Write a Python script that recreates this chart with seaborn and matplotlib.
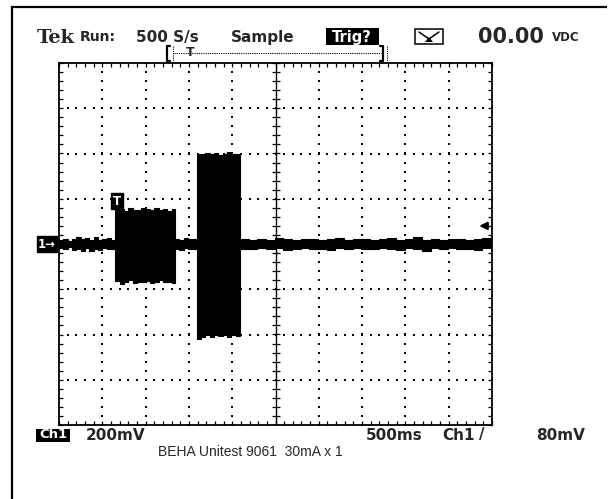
import numpy as np
import matplotlib
matplotlib.use('Agg')
import matplotlib.pyplot as plt
import seaborn as sns
from matplotlib.ticker import MultipleLocator
from matplotlib.patches import Rectangle

# scope settings
volts_per_div = 0.2      # 200mV
secs_per_div = 0.5       # 500ms
trig_level = 0.08        # 80mV
trig_time = 0.67         # s, trigger point marker

# trace envelope: time (s), upper / lower edge (mV)
t_pre = [0.00, 0.05, 0.10, 0.15, 0.20, 0.25, 0.30, 0.35, 0.40, 0.45, 0.50, 0.55, 0.60]
hi_pre = [16, 20, 14, 24, 30, 22, 26, 18, 30, 16, 22, 26, 18]
lo_pre = [-16, -22, -14, -26, -20, -30, -18, -32, -20, -28, -18, -24, -20]

t_burst1 = [0.65, 0.70, 0.75, 0.80, 0.85, 0.90, 0.95, 1.00, 1.05, 1.10, 1.15, 1.20, 1.25, 1.30]
hi_burst1 = [150, 155, 148, 158, 152, 150, 160, 154, 150, 158, 152, 156, 148, 154]
lo_burst1 = [-165, -175, -168, -160, -172, -166, -170, -162, -174, -168, -160, -170, -166, -172]

t_gap = [1.34, 1.39, 1.44, 1.49, 1.54]
hi_gap = [22, 18, 26, 20, 24]
lo_gap = [-20, -26, -18, -24, -20]

t_burst2 = [1.59, 1.64, 1.69, 1.74, 1.79, 1.84, 1.89, 1.94, 1.99, 2.04]
hi_burst2 = [400, 396, 404, 398, 402, 394, 400, 406, 396, 400]
lo_burst2 = [-420, -410, -404, -412, -402, -408, -400, -410, -404, -406]

t_post = [2.09, 2.19, 2.29, 2.39, 2.49, 2.59, 2.69, 2.79, 2.89, 2.99,
          3.09, 3.19, 3.29, 3.39, 3.49, 3.59, 3.69, 3.79, 3.89, 3.99,
          4.09, 4.19, 4.29, 4.39, 4.49, 4.59, 4.69, 4.79, 4.89, 4.99]
hi_post = [24, 18, 22, 16, 26, 20, 18, 24, 20, 16, 22, 28, 18, 20, 24,
           18, 22, 26, 16, 20, 30, 18, 22, 16, 24, 20, 18, 22, 26, 20]
lo_post = [-20, -24, -16, -22, -18, -26, -20, -16, -24, -20, -28, -18, -22, -16, -20,
           -24, -18, -22, -26, -16, -20, -30, -18, -22, -16, -24, -20, -26, -18, -22]

t = np.array(t_pre + t_burst1 + t_gap + t_burst2 + t_post + [5.0])
hi = np.array(hi_pre + hi_burst1 + hi_gap + hi_burst2 + hi_post + [hi_post[-1]]) / 1000
lo = np.array(lo_pre + lo_burst1 + lo_gap + lo_burst2 + lo_post + [lo_post[-1]]) / 1000

sns.set_theme(style='white')
plt.rcParams['font.family'] = ['DejaVu Sans']

W, H = 608, 499
fig = plt.figure(figsize=(W / 100, H / 100), dpi=100)
fig.patch.set_facecolor('white')
fig.patch.set_linewidth(0)

# overlay in pixel coordinates for the frame and readouts
ov = fig.add_axes([0, 0, 1, 1])
ov.set_xlim(0, W)
ov.set_ylim(H, 0)
ov.axis('off')

# graticule axes
L, R, T, B = 59, 492, 63, 425
ax = fig.add_axes([L / W, 1 - B / H, (R - L) / W, (B - T) / H])
ax.set_facecolor('none')
ax.set_xlim(0, 10 * secs_per_div)
ax.set_ylim(-4 * volts_per_div, 4 * volts_per_div)
for s in ax.spines.values():
    s.set_color('black')
    s.set_linewidth(1.3)
ax.xaxis.set_major_locator(MultipleLocator(secs_per_div))
ax.xaxis.set_minor_locator(MultipleLocator(secs_per_div / 5))
ax.yaxis.set_major_locator(MultipleLocator(volts_per_div))
ax.yaxis.set_minor_locator(MultipleLocator(volts_per_div / 5))
ax.tick_params(which='both', direction='in', length=2.6, width=0.9, color='black',
               top=True, right=True, bottom=True, left=True,
               labelbottom=False, labelleft=False)

# dotted division lines
px_x = 5 / (R - L)
px_y = 1.6 / (B - T)
for k in range(1, 10):
    if k == 5:
        continue
    yy = np.arange(-0.8, 0.8001, volts_per_div / 5)
    ax.scatter(np.full_like(yy, k * secs_per_div), yy, s=1.5, marker='s', color='black', lw=0, zorder=2)
for k in [-3, -2, -1, 1, 2, 3]:
    xx = np.arange(0, 5.0001, secs_per_div / 5)
    ax.scatter(xx, np.full_like(xx, k * volts_per_div), s=1.5, marker='s', color='black', lw=0, zorder=2)

# centre crosshair with ticks
ax.axvline(2.5, color='black', lw=1, zorder=2)
ax.axhline(0, color='black', lw=1, zorder=2)
ax.vlines(np.arange(0, 5.0001, 0.1), -4 * px_y, 4 * px_y, color='black', lw=0.9, zorder=2)
ax.hlines(np.arange(-0.8, 0.8001, 0.04), 2.5 - 4 * px_x, 2.5 + 4 * px_x, color='black', lw=0.9, zorder=2)

# trace
ax.fill_between(t, lo, hi, step='post', color='black', lw=0, zorder=3)
sns.lineplot(x=t, y=hi, drawstyle='steps-post', color='black', lw=0.8, ax=ax, zorder=3)
sns.lineplot(x=t, y=lo, drawstyle='steps-post', color='black', lw=0.8, ax=ax, zorder=3)

# channel marker, trigger point and trigger level
ax.text(-12 * px_x, 0, '1\u2192', ha='center', va='center', color='white', weight='bold',
        fontsize=8.5, clip_on=False, zorder=5,
        bbox=dict(boxstyle='square,pad=0.12', fc='black', ec='black'))
ax.text(trig_time, 0.19, 'T', ha='center', va='center', color='white', weight='bold',
        fontsize=8.5, clip_on=False, zorder=5,
        bbox=dict(boxstyle='square,pad=0.15', fc='black', ec='black'))
ax.annotate('', xy=(4.82, trig_level), xytext=(4.97, trig_level), zorder=5,
            arrowprops=dict(arrowstyle='-|>', color='black', lw=1.6, mutation_scale=11))

# outer frame (top and left edges only)
ov.plot([12, 12], [6, H], color='black', lw=1.6, solid_capstyle='butt')
ov.plot([11, W - 1], [7, 7], color='black', lw=1.6, solid_capstyle='butt')

# top readout
ty = 37
ov.text(37, ty + 1, 'Tek', family='DejaVu Serif', weight='bold', fontsize=14, va='center')
ov.text(80, ty, 'Run:', weight='bold', fontsize=10, va='center')
ov.text(136, ty, '500 S/s', weight='bold', fontsize=11, va='center')
ov.text(231, ty, 'Sample', weight='bold', fontsize=11, va='center')
ov.add_patch(Rectangle((326, 28), 53, 17, fc='black', ec='none'))
ov.text(352, ty, 'Trig?', weight='bold', fontsize=10.5, va='center', ha='center', color='white')
ov.add_patch(Rectangle((415, 29), 28, 15, fc='none', ec='black', lw=1.1))
ov.plot([419, 429, 439], [32, 39, 32], color='black', lw=1.1)
ov.add_patch(plt.Polygon([[425, 42], [429, 37], [433, 42]], fc='black', ec='none'))
ov.text(478, ty, '00.00', weight='bold', fontsize=15, va='center')
ov.text(552, ty, 'VDC', weight='bold', fontsize=8.5, va='center')

# record window bracket
ov.plot([170, 167, 167, 170], [46, 46, 61, 61], color='black', lw=1.6)
ov.plot([173, 173], [46, 61], color='black', lw=0.8, ls=(0, (1, 1)))
ov.plot([174, 381], [53, 53], color='black', lw=0.8, ls=(0, (1, 1)))
ov.text(190, 52, 'T', weight='bold', fontsize=9, va='center', ha='center')
ov.plot([380, 383, 383, 380], [46, 46, 61, 61], color='black', lw=1.6)
ov.plot([387, 387], [46, 61], color='black', lw=0.8, ls=(0, (1, 1)))

# bottom readout
by = 435
ov.add_patch(Rectangle((36, 429), 34, 13, fc='black', ec='none'))
ov.text(53, by, 'Ch1', weight='bold', fontsize=9.5, va='center', ha='center', color='white')
ov.text(86, by, '200mV', weight='bold', fontsize=11, va='center')
ov.text(366, by, '500ms', weight='bold', fontsize=11, va='center')
ov.text(442, by, 'Ch1', weight='bold', fontsize=11, va='center')
ov.text(479, by, '/', weight='bold', fontsize=11, va='center')
ov.text(536, by, '80mV', weight='bold', fontsize=11, va='center')
ov.text(158, 452, 'BEHA Unitest 9061  30mA x 1', family='Liberation Sans', fontsize=10, va='center')

fig.savefig('out.png', dpi=100)
plt.close(fig)
